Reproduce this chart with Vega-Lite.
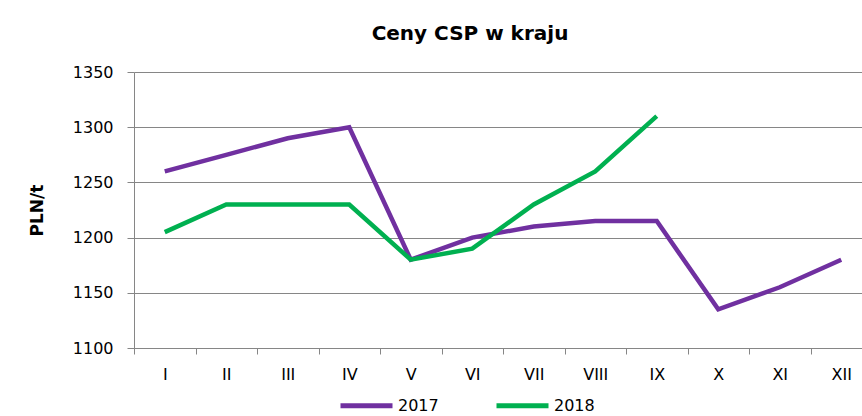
{
  "$schema": "https://vega.github.io/schema/vega-lite/v6.json",
  "width": 738,
  "height": 276,
  "autosize": {"type": "none"},
  "padding": {"left": 134, "top": 72, "right": 0, "bottom": 68},
  "background": "white",
  "title": {
    "text": "Ceny CSP w kraju",
    "font": "DejaVu Sans",
    "fontSize": 20,
    "fontWeight": "bold",
    "color": "#000000",
    "anchor": "middle",
    "dx": -33,
    "offset": 20
  },
  "data": {
    "values": [
      {"month": "I", "year": "2017", "value": 1260},
      {"month": "II", "year": "2017", "value": 1275},
      {"month": "III", "year": "2017", "value": 1290},
      {"month": "IV", "year": "2017", "value": 1300},
      {"month": "V", "year": "2017", "value": 1180},
      {"month": "VI", "year": "2017", "value": 1200},
      {"month": "VII", "year": "2017", "value": 1210},
      {"month": "VIII", "year": "2017", "value": 1215},
      {"month": "IX", "year": "2017", "value": 1215},
      {"month": "X", "year": "2017", "value": 1135},
      {"month": "XI", "year": "2017", "value": 1155},
      {"month": "XII", "year": "2017", "value": 1180},
      {"month": "I", "year": "2018", "value": 1205},
      {"month": "II", "year": "2018", "value": 1230},
      {"month": "III", "year": "2018", "value": 1230},
      {"month": "IV", "year": "2018", "value": 1230},
      {"month": "V", "year": "2018", "value": 1180},
      {"month": "VI", "year": "2018", "value": 1190},
      {"month": "VII", "year": "2018", "value": 1230},
      {"month": "VIII", "year": "2018", "value": 1260},
      {"month": "IX", "year": "2018", "value": 1310}
    ]
  },
  "mark": {"type": "line", "strokeWidth": 4.5, "strokeJoin": "miter"},
  "encoding": {
    "x": {
      "field": "month",
      "type": "ordinal",
      "sort": ["I", "II", "III", "IV", "V", "VI", "VII", "VIII", "IX", "X", "XI", "XII"],
      "bandPosition": 0.5,
      "scale": {"type": "band", "paddingInner": 0, "paddingOuter": 0},
      "axis": {
        "title": null,
        "labelAngle": 0,
        "tickBand": "extent",
        "grid": false,
        "domainColor": "#868686",
        "tickColor": "#868686",
        "tickSize": 6,
        "labelPadding": 12,
        "labelFont": "DejaVu Sans",
        "labelFontSize": 16,
        "labelColor": "#000000"
      }
    },
    "y": {
      "field": "value",
      "type": "quantitative",
      "scale": {"domain": [1100, 1350], "nice": false, "zero": false},
      "axis": {
        "title": "PLN/t",
        "titleFont": "DejaVu Sans",
        "titleFontSize": 17,
        "titleFontWeight": "bold",
        "titleColor": "#000000",
        "titlePadding": 26,
        "format": "d",
        "values": [1100, 1150, 1200, 1250, 1300, 1350],
        "grid": true,
        "gridColor": "#868686",
        "gridWidth": 1,
        "domainColor": "#868686",
        "tickColor": "#868686",
        "tickSize": 7,
        "labelPadding": 14,
        "labelFont": "DejaVu Sans",
        "labelFontSize": 16,
        "labelColor": "#000000"
      }
    },
    "color": {
      "field": "year",
      "type": "nominal",
      "scale": {"domain": ["2017", "2018"], "range": ["#7030A0", "#00B050"]},
      "legend": {
        "title": null,
        "orient": "none",
        "direction": "horizontal",
        "legendX": 204,
        "legendY": 305,
        "padding": 0,
        "symbolType": "stroke",
        "symbolSize": 2704,
        "symbolStrokeWidth": 5,
        "labelOffset": 3,
        "columnPadding": 47,
        "labelFont": "DejaVu Sans",
        "labelFontSize": 16,
        "labelColor": "#000000"
      }
    }
  },
  "config": {
    "view": {"stroke": null}
  }
}
